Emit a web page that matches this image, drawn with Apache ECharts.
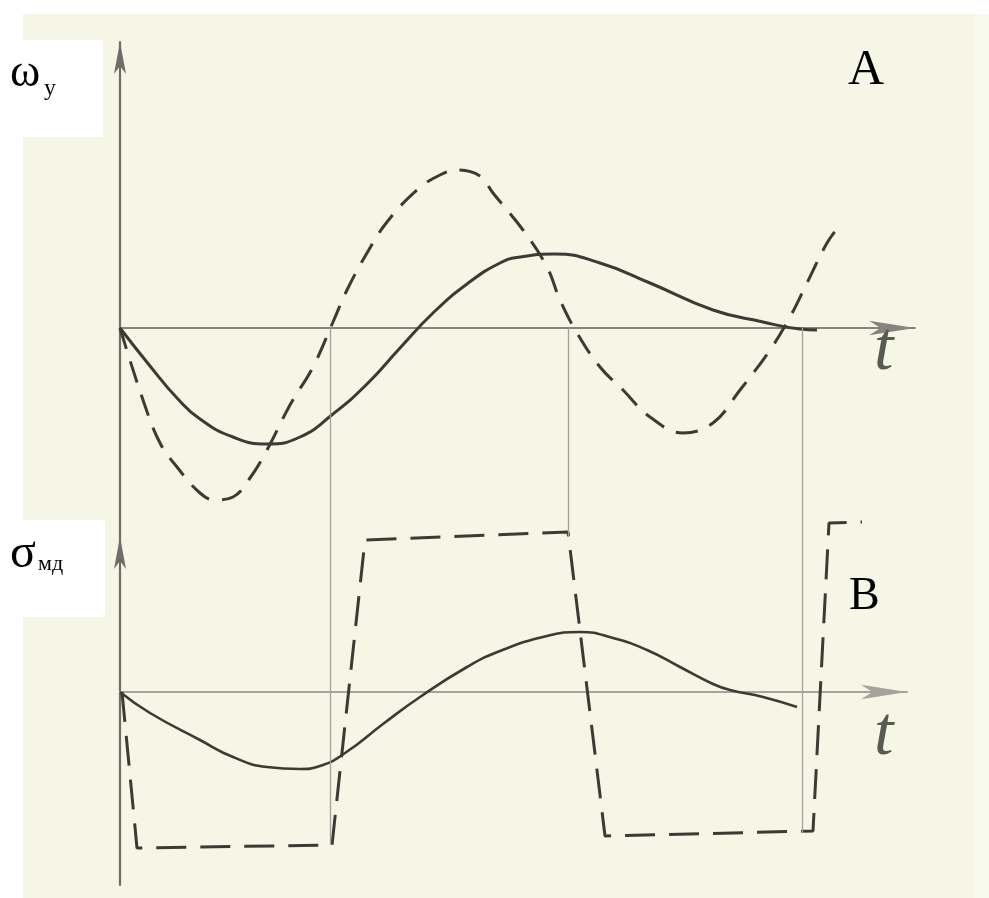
<!DOCTYPE html>
<html>
<head>
<meta charset="utf-8">
<script src="https://cdn.jsdelivr.net/npm/echarts@6/dist/echarts.min.js"></script>
<style>html,body{margin:0;padding:0;background:#fff}#c{width:989px;height:898px}</style>
</head>
<body>
<div id="c"></div>
<script>
// ω_y panel (A): time t (arbitrary units), values in arbitrary units
const omegaSolidT = [0, 0.3, 0.57, 0.8, 1.13, 1.47, 1.8, 2.13, 2.47, 2.8, 3.13, 3.47, 3.8, 4.0, 4.35, 4.8, 5.3, 5.93, 6.43, 6.8, 6.97];
const omegaSolidV = [0, -0.38, -0.7, -0.91, -1.09, -1.16, -1.09, -0.86, -0.56, -0.2, 0.15, 0.44, 0.65, 0.71, 0.74, 0.65, 0.45, 0.18, 0.06, -0.01, -0.02];
const omegaDashT = [0, 0.23, 0.4, 0.57, 0.8, 0.95, 1.13, 1.3, 1.47, 1.7, 1.93, 2.13, 2.27, 2.47, 2.67, 2.97, 3.2, 3.38, 3.6, 3.73, 4.03, 4.27, 4.4, 4.57, 4.8, 5.03, 5.3, 5.63, 5.93, 6.2, 6.5, 6.7, 6.87, 7.07, 7.2];
const omegaDashV = [0, -0.72, -1.15, -1.39, -1.65, -1.72, -1.69, -1.5, -1.22, -0.77, -0.39, 0.06, 0.38, 0.75, 1.06, 1.38, 1.53, 1.58, 1.52, 1.35, 0.98, 0.61, 0.28, -0.05, -0.39, -0.62, -0.89, -1.05, -0.95, -0.62, -0.22, 0.11, 0.45, 0.85, 1.03];
// σ_мд panel (B)
const sigmaSolidT = [0, 0.3, 0.8, 1.13, 1.47, 1.8, 2.0, 2.25, 2.63, 3.0, 3.47, 3.8, 4.27, 4.6, 4.93, 5.27, 5.6, 5.93, 6.1, 6.43, 6.77];
const sigmaSolidV = [0, -0.21, -0.48, -0.65, -0.75, -0.77, -0.74, -0.61, -0.32, -0.05, 0.25, 0.41, 0.56, 0.6, 0.54, 0.42, 0.25, 0.08, 0.02, -0.05, -0.15];
const sigmaDashT = [0.02, 0.17, 2.12, 2.45, 4.48, 4.85, 6.93, 7.09, 7.42];
const sigmaDashV = [0, -1.56, -1.53, 1.52, 1.6, -1.44, -1.39, 1.69, 1.7];
// switching moments (drop lines) and where they end on the σ panel
const switchT = [2.1, 4.48, 6.82];
const switchEndV = [-1.53, 1.6, -1.41];
const axisLabels = { top: 'ω', topSub: 'у', bottom: 'σ', bottomSub: 'мд', t: 't', A: 'A', B: 'B' };

const zip = (a, b) => a.map((v, i) => [v, b[i]]);
const ink = '#3b3b34';
const grid0 = { left: 120, top: 42, width: 795, height: 495 };
const grid1 = { left: 120, top: 537, width: 787, height: 348 };

const axisX = (idx, max, color, w) => ({
  type: 'value', gridIndex: idx, min: 0, max: max,
  axisLine: { onZero: true, lineStyle: { color: color, width: w }, symbol: ['none', 'arrow'], symbolSize: [11, 46] },
  axisTick: { show: false }, axisLabel: { show: false }, splitLine: { show: false }
});
const axisY = (idx, min, max) => ({
  type: 'value', gridIndex: idx, min: min, max: max,
  axisLine: { show: true, onZero: false, lineStyle: { color: '#6e6e66', width: 2.2 }, symbol: ['none', 'arrow'], symbolSize: [9, 32] },
  axisTick: { show: false }, axisLabel: { show: false }, splitLine: { show: false }
});

const dropLine = { color: '#a2a29a', width: 1.3, type: 'solid' };

const option = {
  animation: false,
  backgroundColor: '#f5f6e6',
  grid: [grid0, grid1],
  xAxis: [axisX(0, 7.95, '#85857d', 2), axisX(1, 7.87, '#a4a49c', 2)],
  yAxis: [axisY(0, -2.09, 2.86), axisY(1, -1.93, 1.55)],
  series: [
    { type: 'line', xAxisIndex: 0, yAxisIndex: 0, data: zip(omegaSolidT, omegaSolidV), smooth: 0.5, showSymbol: false, clip: false,
      lineStyle: { color: ink, width: 3 },
      markLine: { silent: true, symbol: 'none', label: { show: false }, lineStyle: dropLine,
        data: switchT.map(t => [{ coord: [t, 0] }, { coord: [t, -2.09] }]) } },
    { type: 'line', xAxisIndex: 0, yAxisIndex: 0, data: zip(omegaDashT, omegaDashV), smooth: 0.4, showSymbol: false, clip: false,
      lineStyle: { color: ink, width: 3, type: [22, 13] } },
    { type: 'line', xAxisIndex: 1, yAxisIndex: 1, data: zip(sigmaSolidT, sigmaSolidV), smooth: 0.5, showSymbol: false, clip: false,
      lineStyle: { color: ink, width: 2.6 },
      markLine: { silent: true, symbol: 'none', label: { show: false }, lineStyle: dropLine,
        data: switchT.map((t, i) => [{ coord: [t, 1.55] }, { coord: [t, switchEndV[i]] }]) } },
    { type: 'line', xAxisIndex: 1, yAxisIndex: 1, data: zip(sigmaDashT, sigmaDashV), smooth: false, showSymbol: false, clip: false,
      lineStyle: { color: ink, width: 3, type: [30, 14] } }
  ],
  graphic: [
    { type: 'rect', shape: { x: 0, y: 0, width: 23, height: 898 }, style: { fill: '#ffffff' }, z: 100 },
    { type: 'rect', shape: { x: 0, y: 0, width: 989, height: 14 }, style: { fill: '#ffffff' }, z: 100 },
    { type: 'rect', shape: { x: 975, y: 14, width: 14, height: 884 }, style: { fill: '#f9faee' }, z: 100 },
    { type: 'rect', shape: { x: 0, y: 40, width: 103, height: 97 }, style: { fill: '#ffffff' }, z: 100 },
    { type: 'rect', shape: { x: 0, y: 520, width: 105, height: 97 }, style: { fill: '#ffffff' }, z: 100 },
    { type: 'text', x: 10, y: 51, z: 101, style: { text: axisLabels.top, font: '46px "Liberation Serif"', fill: '#000', verticalAlign: 'top' } },
    { type: 'text', x: 44, y: 77, z: 101, style: { text: axisLabels.topSub, font: '24px "Liberation Serif"', fill: '#000', verticalAlign: 'top' } },
    { type: 'text', x: 10, y: 530, z: 101, style: { text: axisLabels.bottom, font: '48px "Liberation Serif"', fill: '#000', verticalAlign: 'top' } },
    { type: 'text', x: 38, y: 553, z: 101, style: { text: axisLabels.bottomSub, font: '22px "Liberation Serif"', fill: '#000', verticalAlign: 'top' } },
    { type: 'text', x: 848, y: 46, z: 101, style: { text: axisLabels.A, font: '50px "Liberation Serif"', fill: '#000', verticalAlign: 'top' } },
    { type: 'text', x: 849, y: 574, z: 101, style: { text: axisLabels.B, font: '46px "Liberation Serif"', fill: '#000', verticalAlign: 'top' } },
    { type: 'text', x: 874, y: 316, z: 101, style: { text: axisLabels.t, font: 'italic 70px "Liberation Serif"', fill: '#5a5a54', verticalAlign: 'top' } },
    { type: 'text', x: 874, y: 701, z: 101, style: { text: axisLabels.t, font: 'italic 70px "Liberation Serif"', fill: '#5a5a54', verticalAlign: 'top' } }
  ]
};
echarts.init(document.getElementById('c'), null, { renderer: 'canvas' }).setOption(option);
</script>
</body>
</html>
